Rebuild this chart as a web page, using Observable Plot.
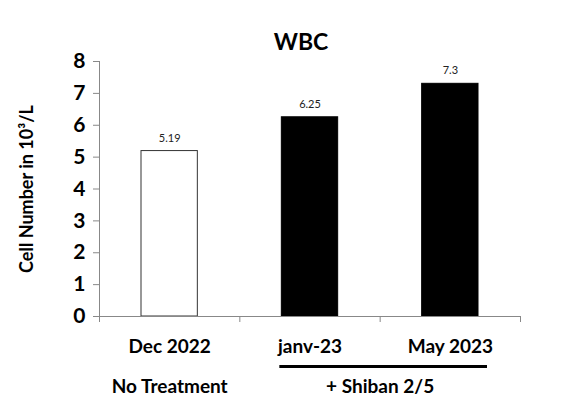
<!DOCTYPE html>
<html>
<head>
<meta charset="utf-8">
<script src="https://cdn.jsdelivr.net/npm/d3@7"></script>
<script src="https://cdn.jsdelivr.net/npm/@observablehq/plot@0.6"></script>
<style>
  html, body { margin: 0; padding: 0; background: #fff; }
</style>
</head>
<body>
<div id="chart"></div>
<script>
const title = "WBC";
const yLabel = "Cell Number in 10\u00B3/L";
const categories = ["Dec 2022", "janv-23", "May 2023"];
const values = [5.19, 6.25, 7.3];
const valueLabels = ["5.19", "6.25", "7.3"];
const treated = [false, true, true];
const groupLabels = ["No Treatment", "+ Shiban 2/5"];
const groupStart = [0, 1];
const groupEnd = [1, 3];
const groupUnderlined = [false, true];
const yTicks = [0, 1, 2, 3, 4, 5, 6, 7, 8];

const bars = categories.map((c, i) => ({i, category: c, value: values[i], label: valueLabels[i], treated: treated[i]}));
const groups = groupLabels.map((g, i) => ({label: g, start: groupStart[i], end: groupEnd[i], underline: groupUnderlined[i]}));

const font = "Lato, 'Open Sans', sans-serif";

const chart = Plot.plot({
  width: 564,
  height: 398,
  marginLeft: 99,
  marginRight: 44,
  marginTop: 61,
  marginBottom: 82,
  style: {fontFamily: font, background: "#fff"},
  x: {domain: [0, categories.length], axis: null},
  y: {domain: [0, 8], axis: null},
  marks: [
    Plot.rectY(bars, {
      x1: d => d.i, x2: d => d.i + 1, y: "value",
      insetLeft: 42, insetRight: 42,
      fill: d => d.treated ? "#000" : "#fff",
      stroke: d => d.treated ? "#000" : "#333",
      strokeWidth: 1
    }),
    Plot.text(bars, {
      x: d => d.i + 0.5, y: "value", text: "label",
      dy: -13, fontSize: 11, fill: "#222"
    }),
    Plot.ruleX([0], {y1: 0, y2: 8, stroke: "#888", strokeWidth: 1}),
    Plot.axisY({ticks: yTicks, tickSize: 6, tickPadding: 8, stroke: "#888",
      fontSize: 21, fontWeight: "bold", fill: "#000", label: null, tickFormat: d => d}),
    Plot.ruleY([0], {stroke: "#888", strokeWidth: 1}),
    Plot.axisX({ticks: d3.range(categories.length + 1), tickSize: 6, stroke: "#888", tickFormat: () => "", label: null}),
    Plot.text(bars, {
      x: d => d.i + 0.5, y: 0, text: "category",
      dy: 30, fontSize: 19, fontWeight: "bold", fill: "#000"
    }),
    Plot.text(groups, {
      x: d => (d.start + d.end) / 2, y: 0, text: "label",
      dy: 70, fontSize: 19, fontWeight: "bold", fill: "#000"
    }),
    Plot.ruleY(groups.filter(d => d.underline), {
      x1: "start", x2: "end", y: 0, dy: 50,
      insetLeft: 40, insetRight: 33, stroke: "#000", strokeWidth: 3
    }),
    Plot.text([title], {
      frameAnchor: "top", dy: -28, dx: -9,
      fontSize: 23, fontWeight: "bold", fill: "#000"
    }),
    Plot.text([yLabel], {
      frameAnchor: "left", rotate: -90, dx: -72, textAnchor: "middle",
      fontSize: 18, fontWeight: "bold", fill: "#000"
    })
  ]
});
document.getElementById("chart").appendChild(chart);
</script>
</body>
</html>
